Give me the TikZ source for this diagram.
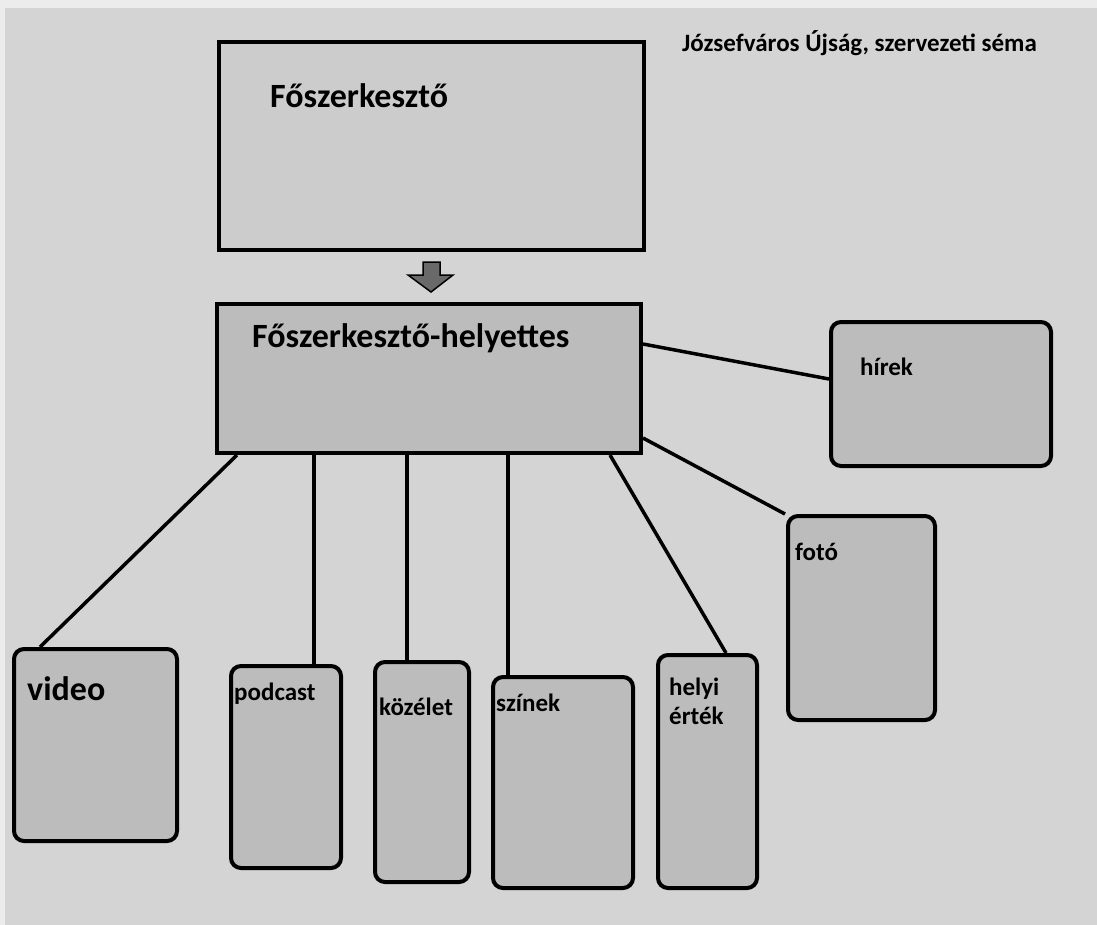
\documentclass[tikz,border=0pt]{standalone}
\usepackage{fontspec}
\setmainfont{Carlito}
\usetikzlibrary{calc}
\definecolor{pagegray}{RGB}{212,212,212}
\definecolor{topgray}{RGB}{204,204,204}
\definecolor{boxgray}{RGB}{188,188,188}
\definecolor{arrowgray}{RGB}{105,105,105}
\tikzset{
  sqbox/.style={draw=black, line width=4pt, inner sep=0pt, anchor=north west},
  rbox/.style={draw=black, line width=4pt, inner sep=0pt, anchor=north west, rounded corners=10pt, fill=boxgray},
  lbl/.style={anchor=west, inner sep=0pt, font=\bfseries\fontsize{25}{29}\selectfont, align=left},
  biglbl/.style={anchor=west, inner sep=0pt, font=\bfseries\fontsize{34}{36}\selectfont},
  conn/.style={draw=black, line width=3.5pt}
}
\begin{document}
\begin{tikzpicture}[x=1pt,y=-1pt]
\useasboundingbox (0,0) rectangle (1097,924);
\fill[pagegray] (-2,-2) rectangle (1099,926);
\fill[white!55!pagegray] (-2,-2) rectangle (1099,8);
\fill[white!55!pagegray] (-2,-2) rectangle (5,926);

% title
\node[anchor=west, inner sep=0pt, font=\bfseries\fontsize{25}{27}\selectfont] (title) at (682,43) {Józsefváros Újság, szervezeti séma};

% top box
\node[sqbox, fill=topgray, minimum width=425pt, minimum height=208pt] (chief) at (217,40) {};
\node[biglbl] (chieft) at (270,96) {Főszerkesztő};

% block arrow
\filldraw[fill=arrowgray, draw=black, line width=1.5pt]
  (423,262) -- (440,262) -- (440,275) -- (453,275) -- (431,292) -- (408,275) -- (423,275) -- cycle;

% deputy box
\node[sqbox, fill=boxgray, minimum width=424pt, minimum height=149pt] (dep) at (215,302) {};
\node[biglbl] (dept) at (252,338) {Főszerkesztő-helyettes};

% section boxes
\node[rbox, minimum width=220pt, minimum height=144pt] (hirek) at (829,320) {};
\node[lbl] at (860,367) {hírek};

\node[rbox, minimum width=147pt, minimum height=204pt] (foto) at (786,514) {};
\node[lbl] at (795,552) {fotó};

\node[rbox, minimum width=163pt, minimum height=192pt] (video) at (12,647) {};
\node[biglbl] at (27,689) {video};

\node[rbox, minimum width=110pt, minimum height=202pt] (podcast) at (229,664) {};
\node[lbl] at (234,694) {podcast};

\node[rbox, minimum width=94pt, minimum height=220pt] (kozelet) at (373,660) {};
\node[lbl] at (379,707) {közélet};

\node[rbox, minimum width=140pt, minimum height=211pt] (szinek) at (491,675) {};
\node[lbl] at (496,703) {színek};

\node[rbox, minimum width=99pt, minimum height=233pt] (helyi) at (656,653) {};
\node[lbl, anchor=north west] at (669,678) {helyi\\érték};

% connectors
\draw[conn] ([xshift=22pt]dep.south west) -- ([xshift=28pt]video.north west);
\draw[conn] ([xshift=99pt]dep.south west) -- ([xshift=85pt]podcast.north west);
\draw[conn] ([xshift=192pt]dep.south west) -- ([xshift=34pt]kozelet.north west);
\draw[conn] ([xshift=293pt]dep.south west) -- ([xshift=17pt]szinek.north west);
\draw[conn] ([xshift=395pt]dep.south west) -- ([xshift=70pt]helyi.north west);
\draw[conn] ([yshift=17pt]dep.south east) -- ([xshift=-1pt]foto.north west);
\draw[conn] ([yshift=-42pt]dep.north east) -- ([yshift=-59pt]hirek.north west);
\end{tikzpicture}
\end{document}
